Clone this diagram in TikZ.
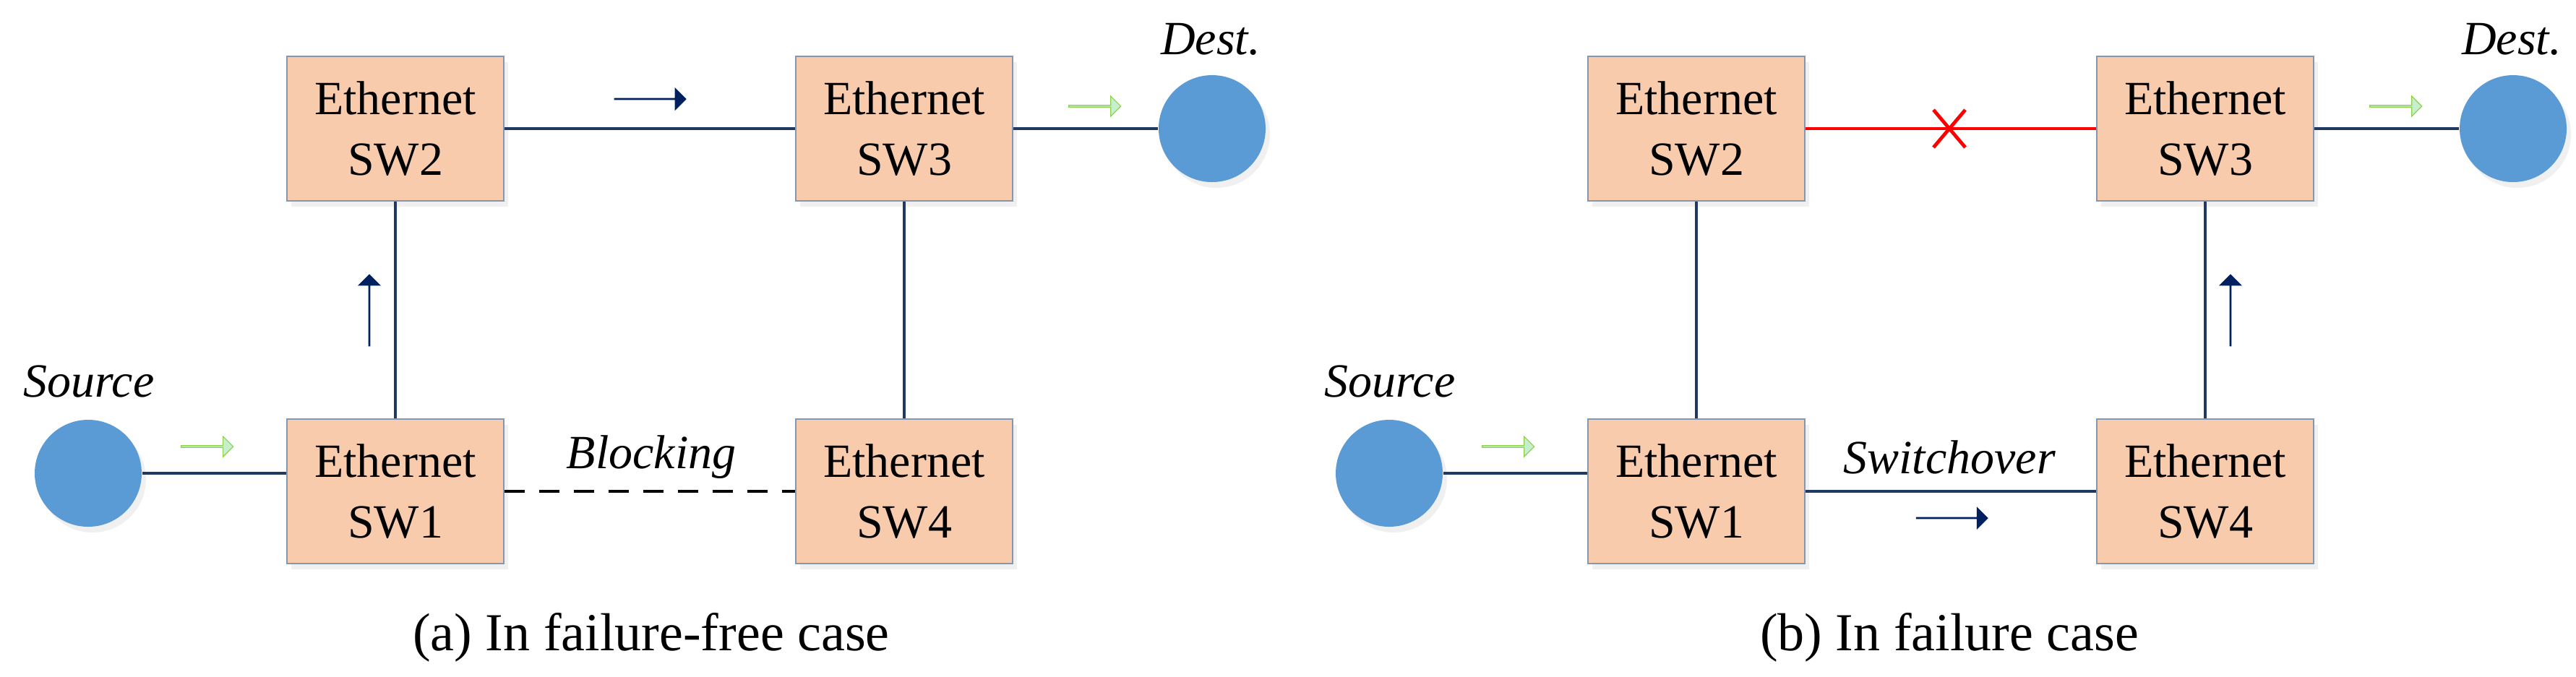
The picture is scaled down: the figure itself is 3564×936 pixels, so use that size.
\documentclass[tikz,border=0pt]{standalone}
\usepackage{fontspec}
\setmainfont{Liberation Serif}
\usetikzlibrary{shapes.arrows,shadows}
\definecolor{boxfill}{HTML}{F8CBAD}
\definecolor{boxdraw}{HTML}{8497B0}
\definecolor{circ}{HTML}{5B9BD5}
\definecolor{link}{HTML}{203864}
\definecolor{navy}{HTML}{002060}
\definecolor{gfill}{HTML}{C6EFCE}
\definecolor{gdraw}{HTML}{92D050}
\begin{document}
\begin{tikzpicture}[x=0.25pt,y=-0.25pt,
  sw/.style={draw=boxdraw,line width=0.6pt,fill=boxfill,minimum width=75pt,minimum height=50pt,align=center,font=\fontsize{16.5}{21}\selectfont,inner sep=0pt,drop shadow={opacity=0.12,shadow xshift=1.5pt,shadow yshift=-2pt}},
  host/.style={circle,fill=circ,minimum size=37pt,inner sep=0pt,drop shadow={opacity=0.12,shadow xshift=1.5pt,shadow yshift=-2pt}},
  lbl/.style={font=\fontsize{16.5}{20}\selectfont\itshape,inner sep=0pt},
  captxt/.style={font=\fontsize{18.5}{22}\selectfont,inner sep=0pt},
  ln/.style={draw=link,line width=1.2pt},
  bigarrow/.style={single arrow,fill=navy,minimum height=25pt,minimum width=8pt,single arrow head extend=2pt,inner sep=0pt},
  garrow/.style={single arrow,fill=gfill,draw=gdraw,line width=0.3pt,minimum height=18pt,minimum width=7pt,single arrow head extend=1.5pt,inner sep=0pt}]
\useasboundingbox (0,0) rectangle (3564,936);
% panel (a)
\node[sw] (a2) at (547,178) {Ethernet\\SW2};
\node[sw] (a3) at (1251,178) {Ethernet\\SW3};
\node[sw] (a1) at (547,680) {Ethernet\\SW1};
\node[sw] (a4) at (1251,680) {Ethernet\\SW4};
\node[host] (as) at (122,655) {};
\node[host] (ad) at (1677,178) {};
\node[lbl] (asl) at (123,528) {Source};
\node[lbl] (adl) at (1675,54) {Dest.};
\node[lbl] (abl) at (901,633) {Blocking};
\node[captxt] (acap) at (901,882) {(a) In failure-free case};
\draw[ln] (as.east) -- (as -| a1.west);
\draw[ln] (a1.north) -- (a2.south);
\draw[ln] (a2.east) -- (a3.west);
\draw[ln] (a3.east) -- (ad.west);
\draw[ln] (a3.south) -- (a4.north);
\draw[black,line width=1.2pt,dash pattern=on 7pt off 5pt] (a1.east) -- (a4.west);
\node[bigarrow] (aarr1) at (899,137) {};
\node[bigarrow,rotate=90] (aarr2) at (511,430) {};
\node[garrow] (ag1) at (286,618) {};
\node[garrow] (ag2) at (1514,147) {};
% panel (b)
\node[sw] (b2) at (2347,178) {Ethernet\\SW2};
\node[sw] (b3) at (3051,178) {Ethernet\\SW3};
\node[sw] (b1) at (2347,680) {Ethernet\\SW1};
\node[sw] (b4) at (3051,680) {Ethernet\\SW4};
\node[host] (bs) at (1922,655) {};
\node[host] (bd) at (3477,178) {};
\node[lbl] (bsl) at (1923,528) {Source};
\node[lbl] (bdl) at (3475,54) {Dest.};
\node[lbl] (bsw) at (2697,633) {Switchover};
\node[captxt] (bcap) at (2697,882) {(b) In failure case};
\draw[ln] (bs.east) -- (bs -| b1.west);
\draw[ln] (b1.north) -- (b2.south);
\draw[red,line width=1.2pt] (b2.east) -- (b3.west);
\draw[ln] (b3.east) -- (bd.west);
\draw[ln] (b4.north) -- (b3.south);
\draw[ln] (b1.east) -- (b4.west);
\coordinate (bx) at (2697,178);
\draw[red,line width=1.2pt] ([shift={(-22,-26)}]bx) -- ([shift={(22,26)}]bx);
\draw[red,line width=1.2pt] ([shift={(22,-26)}]bx) -- ([shift={(-22,26)}]bx);
\node[bigarrow] (barr1) at (2700,717) {};
\node[bigarrow,rotate=90] (barr2) at (3086,430) {};
\node[garrow] (bg1) at (2086,618) {};
\node[garrow] (bg2) at (3314,147) {};
\end{tikzpicture}
\end{document}
